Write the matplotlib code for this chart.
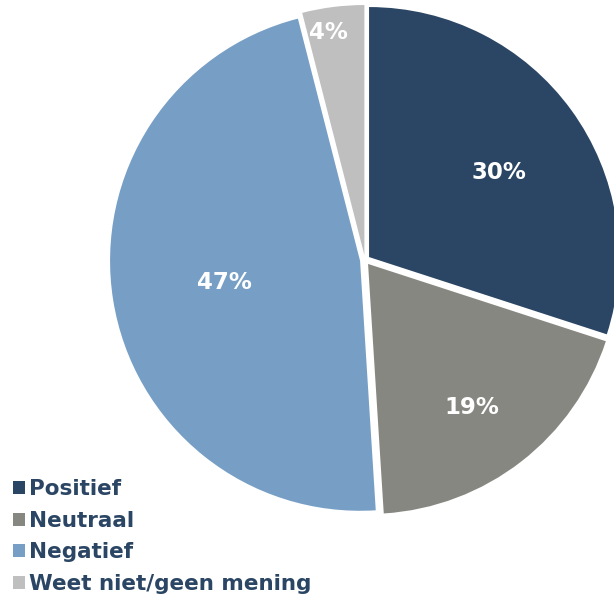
import matplotlib
matplotlib.use("Agg")
import matplotlib.pyplot as plt
from matplotlib.patches import Patch
import numpy as np

categories = ["Positief", "Neutraal", "Negatief", "Weet niet/geen mening"]
values = [30, 19, 47, 4]
labels = ["30%", "19%", "47%", "4%"]

colors = ["#2B4664", "#878782", "#779FC6", "#BFBFBF"]
label_radius = [0.62, 0.71, 0.55, 0.90]
label_angle_shift = [-3, -2, 0, 2]
text_color = "#2B4664"

fig = plt.figure(figsize=(6.14, 5.98), dpi=100)
ax = fig.add_axes([0, 0, 1, 1])
R = 250.0
cx, cy = 365, 598 - 260

wedges, _ = ax.pie(values, colors=colors, startangle=90, counterclock=False,
                   explode=[0.02] * len(values), radius=1.0,
                   wedgeprops=dict(linewidth=0))
ax.set_xlim(-cx / R, (614 - cx) / R)
ax.set_ylim(-cy / R, (598 - cy) / R)
ax.set_aspect("equal")
ax.axis("off")

for w, lab, r, da in zip(wedges, labels, label_radius, label_angle_shift):
    ang = np.deg2rad((w.theta1 + w.theta2) / 2 + da)
    cxw, cyw = w.center
    ax.text(cxw + r * np.cos(ang), cyw + r * np.sin(ang), lab,
            ha="center", va="center", color="white",
            fontsize=16.5, fontweight="bold", family="DejaVu Sans")

handles = [Patch(facecolor=c, edgecolor="none") for c in colors]
leg = fig.legend(handles, categories, loc="lower left",
                 bbox_to_anchor=(-0.003, -0.018), frameon=False,
                 handlelength=0.55, handleheight=0.55, handletextpad=0.2,
                 labelspacing=0.53, borderaxespad=0.3,
                 prop=dict(family="DejaVu Sans", weight="bold", size=15.5))
for t in leg.get_texts():
    t.set_color(text_color)

fig.savefig("out.png", dpi=100)
